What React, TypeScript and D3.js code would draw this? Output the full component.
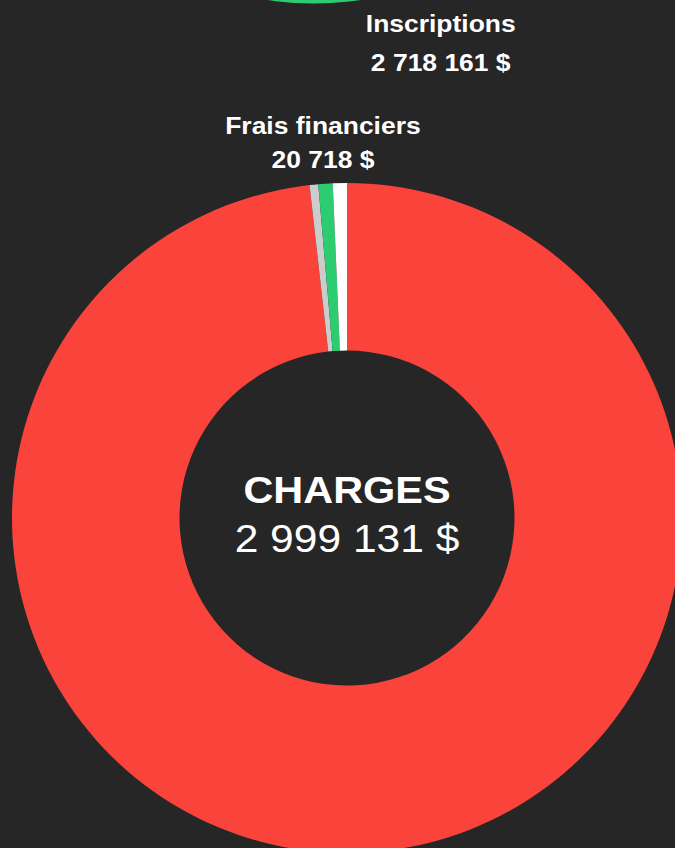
import React from "react";
import * as d3 from "d3";

// ---- Data ----
const chargeCategories = ["Charges d'exploitation", "Autres charges", "Frais financiers", "Amortissements"];
const chargeValues = [2945613, 12500, 20718, 20300];
const chargeColors = ["#f9433b", "#cccccc", "#2ecc71", "#ffffff"];
const chargeLabelled = ["Frais financiers"];
const chargeTitle = "CHARGES";
const chargeTotal = 2999131;

const revenueCategories = ["Inscriptions", "Autres produits"];
const revenueValues = [2718161, 335000];
const revenueColors = ["#2ecc71", "#3498db"];
const revenueLabelled = ["Inscriptions"];

const W = 675;
const H = 848;
const BG = "#262626";
const FONT = "'Liberation Sans', Arial, Helvetica, sans-serif";
const SX = 1.08; // horizontal glyph stretch to match reference typeface

const fmt = (v: number) =>
  d3.format(",")(v).replace(/,/g, " ") + " $";

type DonutProps = {
  cats: string[];
  values: number[];
  colors: string[];
  labelled: string[];
  cx: number;
  cy: number;
  R: number;
  labelR: number;
  lineGap: number;
};

function Donut({ cats, values, colors, labelled, cx, cy, R, labelR, lineGap }: DonutProps) {
  const data = cats.map((c, i) => ({ name: c, value: values[i], color: colors[i] }));
  const pie = d3.pie<any>().sort(null).value((d: any) => d.value);
  const arcs = pie(data);
  const arc = d3.arc<any>().innerRadius(R * 0.5).outerRadius(R);
  const labelArc = d3.arc<any>().innerRadius(labelR).outerRadius(labelR);
  return (
    <g transform={`translate(${cx},${cy})`}>
      {arcs.map((a, i) => (
        <path key={i} d={arc(a) as string} fill={a.data.color} />
      ))}
      {arcs
        .filter((a) => labelled.includes(a.data.name))
        .map((a, i) => {
          const [lx, ly] = labelArc.centroid(a);
          return (
            <g key={"l" + i} transform={`translate(${lx},${ly}) scale(${SX},1)`}>
              <text
                y={-10}
                textAnchor="middle"
                fill="#fff"
                fontFamily={FONT}
                fontWeight="bold"
                fontSize={24.5}
              >
                {a.data.name}
              </text>
              <text
                y={-10 + lineGap}
                textAnchor="middle"
                fill="#fff"
                fontFamily={FONT}
                fontWeight="bold"
                fontSize={24.5}
              >
                {fmt(a.data.value)}
              </text>
            </g>
          );
        })}
    </g>
  );
}

export default function App() {
  const ccx = 347;
  const ccy = 518;
  return (
    <svg
      width={W}
      height={H}
      style={{ position: "absolute", left: 0, top: 0, display: "block" }}
    >
      <rect x={0} y={0} width={W} height={H} fill={BG} />
      <Donut
        cats={revenueCategories}
        values={revenueValues}
        colors={revenueColors}
        labelled={revenueLabelled}
        cx={314}
        cy={-311}
        R={314.5}
        labelR={375}
        lineGap={39}
      />
      <Donut
        cats={chargeCategories}
        values={chargeValues}
        colors={chargeColors}
        labelled={chargeLabelled}
        cx={ccx}
        cy={ccy}
        R={335}
        labelR={375}
        lineGap={34}
      />
      <g transform={`translate(${ccx},${ccy}) scale(1.12,1)`}>
        <text
          y={-15}
          textAnchor="middle"
          fill="#fff"
          fontFamily={FONT}
          fontWeight="bold"
          fontSize={37}
        >
          {chargeTitle}
        </text>
        <text
          y={34}
          textAnchor="middle"
          fill="#fff"
          fontFamily={FONT}
          fontSize={38}
        >
          {fmt(chargeTotal)}
        </text>
      </g>
    </svg>
  );
}
